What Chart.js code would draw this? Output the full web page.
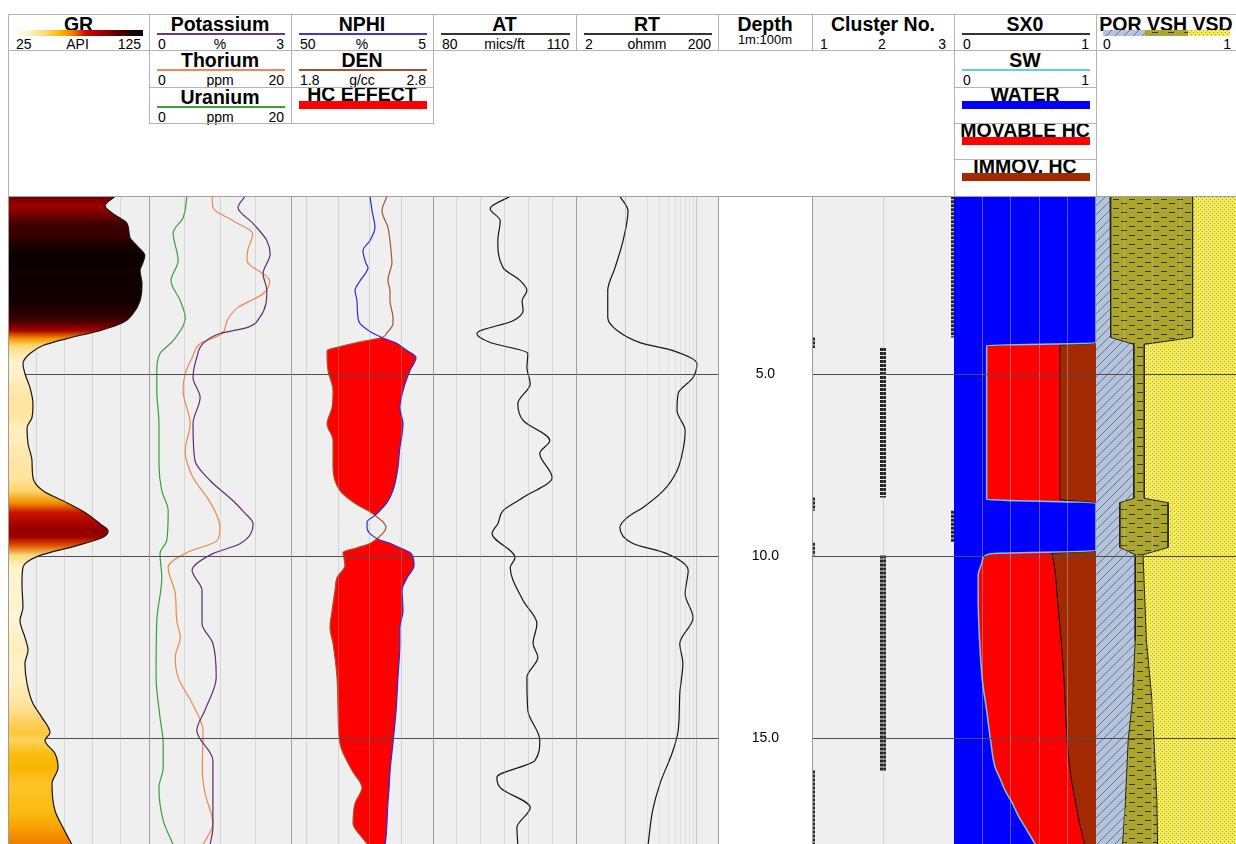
<!DOCTYPE html>
<html>
<head>
<meta charset="utf-8">
<title>Well log</title>
<script src="https://cdn.jsdelivr.net/npm/chart.js@4.4.1/dist/chart.umd.min.js"></script>
<style>
  html, body { margin: 0; padding: 0; background: #fff; }
  body { width: 1236px; height: 844px; position: relative; overflow: hidden;
         font-family: "Liberation Sans", Arial, sans-serif; color: #000; }
  .abs { position: absolute; }
  .track { position: absolute; top: 197px; height: 647px; }
  .track canvas { display: block; }
  .title { position: absolute; font-weight: bold; font-size: 19.5px; line-height: 20px;
           text-align: center; white-space: nowrap; }
  .lbl { position: absolute; font-size: 14px; line-height: 15px; white-space: nowrap; }
</style>
</head>
<body>
<div class="track" style="left:8px;width:141px"><canvas id="grChart" width="141" height="647"></canvas></div>
<div class="track" style="left:149px;width:142px"><canvas id="kChart" width="142" height="647"></canvas></div>
<div class="track" style="left:291px;width:142px"><canvas id="ndChart" width="142" height="647"></canvas></div>
<div class="track" style="left:433px;width:143px"><canvas id="atChart" width="143" height="647"></canvas></div>
<div class="track" style="left:576px;width:142px"><canvas id="rtChart" width="142" height="647"></canvas></div>
<div class="track" style="left:718px;width:94px"><canvas id="depthChart" width="94" height="647"></canvas></div>
<div class="track" style="left:812px;width:142px"><canvas id="clChart" width="142" height="647"></canvas></div>
<div class="track" style="left:954px;width:142px"><canvas id="sxChart" width="142" height="647"></canvas></div>
<div class="track" style="left:1096px;width:140px"><canvas id="volChart" width="140" height="647"></canvas></div>

<script>
// depth range shown (m) and depth labels
var depthMin = 0.12, depthMax = 17.9;
var depthTicks = [5, 10, 15];

// GR (API)
var grDepth = [0.1,0.36,0.58,0.85,1.24,1.46,1.73,1.92,2.14,2.5,2.97,3.32,3.57,3.79,4.01,4.2,4.42,4.7,4.97,5.36,5.8,6.18,6.46,6.9,7.36,7.83,8.19,8.52,8.79,9.1,9.29,9.47,9.7,9.97,10.3,10.74,11.4,11.76,12.22,12.58,12.94,13.49,14.04,14.42,14.84,15.05,15.41,15.8,16.24,16.98,17.45,17.92];
var grValue = [100.9,93.8,99.5,109.4,111.5,116.5,122,120.7,118.6,120,118.6,113.7,106.6,90.2,66.8,49.8,40.6,35.6,37,40.6,42.7,42,38.5,39.2,42,42.7,49.8,66.8,79.6,90.2,96,92.4,73.9,47.7,35.6,34.9,35.6,33.5,37,39.2,37,38.5,42.7,49,54.8,51.2,58.3,60.5,56.2,58.3,64,70.4];

// Potassium (%), Thorium (ppm), Uranium (ppm)
var kDepth = [0.1,0.41,0.85,1.32,1.68,2.23,2.69,3.43,3.71,3.87,4.15,4.53,5.08,5.63,6.35,7.36,7.91,8.46,8.8,9.1,9.65,9.92,10.38,10.93,11.84,12.39,13.32,14.23,14.78,15.6,16.7,17.45,17.92];
var kValue = [2.03,1.88,2.2,2.49,2.56,2.41,2.49,2.34,2.07,1.5,1.14,1.01,0.93,1.08,0.93,0.97,1.29,1.77,2.02,2.2,1.92,1.35,0.91,1.12,1.12,1.35,1.42,1.18,1.01,1.35,1.35,1.35,1.29];
var thDepth = [0.1,0.41,0.77,1.13,1.59,1.87,2.42,2.77,3.16,3.52,3.87,4.15,4.53,4.97,5.44,6.35,7.09,7.83,8.38,8.8,9.2,9.56,9.89,10.3,11.02,11.76,12.22,12.77,13.32,14.04,14.78,15.88,16.51,17.34,17.92];
var thValue = [8.9,9.0,11.8,14.6,13.9,13.8,17.0,16.1,12.5,11.0,10.3,7.2,6.1,5.1,4.8,5.8,5.1,6.2,8.2,9.4,10.0,9.6,5.35,2.7,3.7,3.9,4.4,3.7,4.1,6.1,7.6,7.5,7.9,9.0,7.6];
var uDepth = [0.1,0.69,1.1,1.87,2.42,2.97,3.43,4.07,4.42,4.89,5.44,6.35,7.45,8.19,8.74,9.56,9.92,10.58,11.76,13.32,14.42,15.14,15.8,16.35,17.25,17.92];
var uValue = [5.35,4.8,3.4,4.1,3.1,4.4,5.1,3.4,1.55,1.1,1.1,1.4,1.4,1.8,2.7,2.5,1.55,1.8,1.1,1.0,1.55,2.0,2.0,1.4,2.0,3.4];

// NPHI (%) and DEN (g/cc) on the same depths
var ndDepth = [0.1,0.5,0.96,1.32,1.59,1.95,2.06,2.42,2.69,2.97,3.43,3.6,3.85,3.98,4.12,4.26,4.34,4.53,4.89,5.44,5.91,6.35,6.81,7.0,7.55,8.19,8.52,8.79,8.87,9.05,9.2,9.51,9.64,9.76,9.89,10.03,10.25,10.58,10.93,11.5,11.95,12.39,13.32,14.23,15.14,15.88,16.35,16.79,17.34,17.72,17.92];
var nphiValue = [25.0,24.3,23.4,25.0,27.2,26.2,25.6,28.1,29.7,29.1,28.8,28.1,24.3,21.2,17.0,14.5,13.2,10.4,12.3,14.5,15.5,14.5,15.1,15.5,16.1,17.7,19.6,22.4,23.4,25.9,25.9,22.7,18.6,15.5,12.3,11.3,11.0,13.2,14.8,14.5,15.5,15.5,16.1,16.7,17.7,18.6,18.9,19.3,19.6,19.9,20.2];
var denValue = [2.476,2.441,2.483,2.497,2.504,2.511,2.504,2.483,2.497,2.497,2.518,2.518,2.476,2.441,2.265,2.117,2.054,2.054,2.061,2.096,2.089,2.054,2.096,2.096,2.096,2.145,2.244,2.363,2.392,2.448,2.469,2.406,2.356,2.265,2.166,2.173,2.180,2.124,2.110,2.089,2.075,2.096,2.124,2.131,2.145,2.230,2.300,2.251,2.237,2.300,2.342];

// AT (mics/ft)
var atDepth = [0.1,0.44,0.77,1.32,2.06,2.42,2.69,2.97,3.24,3.52,3.87,4.12,4.42,4.81,5.25,5.8,6.26,6.81,7.17,7.83,8.38,8.74,9.1,9.37,10.03,10.3,11.21,11.84,12.39,12.77,13.32,14.23,15.05,15.6,16.07,16.35,16.9,17.45,17.92];
var atValue = [96.2,92.0,94.1,93.6,94.7,98.3,99.7,98.7,98.9,96.8,89.2,92.0,99.9,99.7,100.4,97.8,98.9,104.5,102.4,105,98.9,94.7,93.6,92.4,97.2,96.2,98.9,101.8,101.0,102.0,99.7,99.9,102.4,101.4,93.4,94.1,100.4,97.6,97.8];

// RT (ohmm)
var rtDepth = [0.1,0.5,1.32,2.06,2.69,3.43,3.79,4.12,4.34,4.7,5.08,5.52,5.99,6.54,7.09,7.64,8.19,8.65,8.93,9.2,9.64,9.92,10.38,11.02,11.68,12.39,12.94,13.76,14.78,15.33,16.24,16.98,17.92];
var rtValue = [8.3,10.8,9.2,7.1,5.6,5.6,7.6,15.9,46.5,101,89,55,53,69,64,53,34,17.6,10.5,8.3,12.7,38,76,69,89,58,64,58,55,46.5,30.5,24,20.7];

// Cluster No. intervals
var clusterTop = [0.1, 3.98, 4.27, 8.38, 8.74, 9.62, 9.97, 15.88];
var clusterBase = [3.98, 4.27, 8.38, 8.74, 9.62, 9.97, 15.88, 17.92];
var clusterNo = [3, 1, 2, 1, 3, 1, 2, 1];

// SW and SX0 (fraction)
var satDepth = [0.1,4.13,4.2,8.43,8.53,9.84,9.92,10.11,10.52,11.02,12.31,13.41,14.23,15.12,15.8,16.06,16.43,16.77,17.1,17.43,17.79,17.92];
var swValue = [1,1,0.23,0.23,1,1,0.255,0.2,0.17,0.17,0.18,0.2,0.23,0.26,0.29,0.32,0.36,0.41,0.45,0.5,0.555,0.575];
var sx0Value = [1,1,0.746,0.746,1,1,0.69,0.70,0.715,0.725,0.755,0.775,0.785,0.797,0.815,0.824,0.84,0.856,0.872,0.89,0.912,0.92];

// POR, VSH (VSD is the rest up to 1)
var volDepth = [0.1,3.98,4.17,8.40,8.52,9.75,9.95,12.31,13.96,15.05,16.70,17.92];
var porValue = [0.10,0.105,0.27,0.27,0.17,0.17,0.28,0.28,0.26,0.23,0.21,0.19];
var vshValue = [0.59,0.585,0.075,0.075,0.345,0.345,0.056,0.08,0.14,0.184,0.225,0.25];

// GR colour map (API -> colour)
var grMapAt = [25, 37, 50, 60, 70, 80, 93, 105, 115, 125];
var grMapColor = ['#ffffff','#fff1c8','#fdd56b','#fbb800','#f08000','#c81000','#a00000','#5a0000','#200000','#000000'];

Chart.defaults.font.family = '"Liberation Sans", Arial, sans-serif';

function pairs(depths, values) {
  return depths.map(function (d, i) { return { x: values[i], y: d }; });
}

function hexRgb(h) {
  return [parseInt(h.substr(1, 2), 16), parseInt(h.substr(3, 2), 16), parseInt(h.substr(5, 2), 16)];
}

function grColor(v) {
  if (v <= grMapAt[0]) return grMapColor[0];
  for (var i = 1; i < grMapAt.length; i++) {
    if (v <= grMapAt[i]) {
      var t = (v - grMapAt[i - 1]) / (grMapAt[i] - grMapAt[i - 1]);
      var a = hexRgb(grMapColor[i - 1]), b = hexRgb(grMapColor[i]);
      return 'rgb(' + Math.round(a[0] + (b[0] - a[0]) * t) + ',' + Math.round(a[1] + (b[1] - a[1]) * t) + ',' + Math.round(a[2] + (b[2] - a[2]) * t) + ')';
    }
  }
  return grMapColor[grMapColor.length - 1];
}

// vertical gradient: the GR fill takes the colour of the GR value at each depth
function grFill(context) {
  var chart = context.chart, area = chart.chartArea, ys = chart.scales.y;
  if (!area || !ys) return '#f5c040';
  var g = chart.ctx.createLinearGradient(0, area.top, 0, area.bottom);
  for (var i = 0; i < grDepth.length; i++) {
    var off = (ys.getPixelForValue(grDepth[i]) - area.top) / (area.bottom - area.top);
    if (!isFinite(off)) return '#f5c040';
    g.addColorStop(Math.min(1, Math.max(0, off)), grColor(grValue[i]));
  }
  return g;
}

// lithology patterns
var patCtx = document.createElement('canvas').getContext('2d');
function makePattern(w, h, draw) {
  var c = document.createElement('canvas');
  c.width = w; c.height = h;
  draw(c.getContext('2d'), w, h);
  return patCtx.createPattern(c, 'repeat');
}
var porPattern = makePattern(9, 9, function (c, w, h) {
  c.fillStyle = '#b5c4dd'; c.fillRect(0, 0, w, h);
  c.strokeStyle = '#59606e'; c.lineWidth = 0.8;
  c.beginPath();
  c.moveTo(0, h); c.lineTo(w, 0);
  c.moveTo(-2, 2); c.lineTo(2, -2);
  c.moveTo(w - 2, h + 2); c.lineTo(w + 2, h - 2);
  c.stroke();
});
var vshPattern = makePattern(16, 9, function (c, w, h) {
  c.fillStyle = '#aca62c'; c.fillRect(0, 0, w, h);
  c.fillStyle = '#3a3814';
  c.fillRect(1, 2, 6, 1);
  c.fillRect(9, 6, 6, 1);
});
var vsdPattern = makePattern(4, 4, function (c, w, h) {
  c.fillStyle = '#f5ed58'; c.fillRect(0, 0, w, h);
  c.fillStyle = '#a59d3e';
  c.fillRect(0, 0, 1, 1);
  c.fillRect(2, 2, 1, 1);
});

// track background
var trackBg = {
  id: 'trackBg',
  beforeDraw: function (chart, args, opts) {
    var a = chart.chartArea, ctx = chart.ctx;
    ctx.save();
    ctx.fillStyle = opts.color || '#efefef';
    ctx.fillRect(a.left, a.top, a.right - a.left, a.bottom - a.top);
    ctx.restore();
  }
};

function depthScale(showLines, z) {
  return {
    type: 'linear', reverse: true, min: depthMin, max: depthMax,
    afterBuildTicks: function (s) { s.ticks = depthTicks.map(function (v) { return { value: v }; }); },
    ticks: { display: false },
    grid: { display: showLines, color: '#4d4d4d', lineWidth: 1, drawTicks: false, z: z },
    border: { display: false }
  };
}

function valueScale(min, max, gridAt, more) {
  var s = {
    type: 'linear', axis: 'x', position: 'top', min: min, max: max,
    afterBuildTicks: function (sc) { sc.ticks = gridAt.map(function (v) { return { value: v }; }); },
    ticks: { display: false },
    grid: { color: 'rgba(165,165,165,0.35)', lineWidth: 1, drawTicks: false, z: 1 },
    border: { display: false }
  };
  for (var k in more) s[k] = more[k];
  return s;
}

function hiddenScale(min, max, more) {
  var s = { type: 'linear', axis: 'x', display: false, min: min, max: max };
  for (var k in more) s[k] = more[k];
  return s;
}

function trackChart(id, datasets, xScales, bg, yScale) {
  var scales = { y: yScale };
  for (var k in xScales) scales[k] = xScales[k];
  return new Chart(document.getElementById(id), {
    type: 'line',
    data: { datasets: datasets },
    options: {
      indexAxis: 'y',
      responsive: false,
      animation: false,
      events: [],
      layout: { padding: 0, autoPadding: false },
      elements: { point: { radius: 0 }, line: { borderWidth: 1.2, cubicInterpolationMode: 'monotone' } },
      plugins: { legend: { display: false }, tooltip: { enabled: false }, trackBg: { color: bg } },
      scales: scales
    },
    plugins: [trackBg]
  });
}

// GR
trackChart('grChart', [{
  label: 'GR', data: pairs(grDepth, grValue), xAxisID: 'x',
  borderColor: '#151515', borderWidth: 1.2, backgroundColor: grFill, fill: { value: 25 }
}], {
  x: valueScale(25, 125, [45, 65, 85, 105], { grid: { color: 'rgba(165,165,165,0.35)', drawTicks: false, z: -1 } })
}, '#efefef', depthScale(true, -1));

// Potassium / Thorium / Uranium
trackChart('kChart', [
  { label: 'Potassium', data: pairs(kDepth, kValue), xAxisID: 'x', borderColor: '#5e2d72', fill: false },
  { label: 'Thorium', data: pairs(thDepth, thValue), xAxisID: 'ppm', borderColor: '#f0874a', fill: false },
  { label: 'Uranium', data: pairs(uDepth, uValue), xAxisID: 'ppm', borderColor: '#3a9e3a', fill: false }
], {
  x: valueScale(0, 3, [0.75, 1.5, 2.25]),
  ppm: hiddenScale(0, 20)
}, '#efefef', depthScale(true, 1));

// NPHI / DEN with HC effect where DEN sits left of NPHI
var hcData = ndDepth.map(function (d, i) {
  var denPos = (denValue[i] - 1.8) / 1.0;
  var nphiPos = (50 - nphiValue[i]) / 45;
  return { x: denPos <= nphiPos + 0.01 ? denValue[i] : null, y: d };
});
trackChart('ndChart', [
  { label: 'NPHI', data: pairs(ndDepth, nphiValue), xAxisID: 'x', borderColor: '#2a2ae0', fill: false, order: 0 },
  { label: 'DEN', data: pairs(ndDepth, denValue), xAxisID: 'den', borderColor: '#a5532c', fill: false, order: 0 },
  { label: 'HC EFFECT', data: hcData, xAxisID: 'den', borderWidth: 0, borderColor: 'rgba(0,0,0,0)',
    backgroundColor: '#ff0000', fill: '-2', order: 1 }
], {
  x: valueScale(5, 50, [15, 25, 35, 45], { reverse: true }),
  den: hiddenScale(1.8, 2.8)
}, '#efefef', depthScale(true, 1));

// AT
trackChart('atChart', [
  { label: 'AT', data: pairs(atDepth, atValue), xAxisID: 'x', borderColor: '#151515', fill: false }
], {
  x: valueScale(80, 110, [85, 90, 95, 100, 105])
}, '#efefef', depthScale(true, 1));

// RT (log)
var rtScale = valueScale(2, 200, [10, 20, 30, 40, 50, 60, 70, 80, 90, 100], { type: 'logarithmic' });
rtScale.grid.color = function (c) {
  var v = c.tick ? c.tick.value : 0;
  return (v === 10 || v === 100) ? 'rgba(150,150,150,0.45)' : 'rgba(170,170,170,0.22)';
};
trackChart('rtChart', [
  { label: 'RT', data: pairs(rtDepth, rtValue), xAxisID: 'x', borderColor: '#151515', fill: false }
], { x: rtScale }, '#efefef', depthScale(true, 1));

// Depth labels
new Chart(document.getElementById('depthChart'), {
  type: 'line',
  data: { datasets: [] },
  options: {
    indexAxis: 'y', responsive: false, animation: false, events: [],
    layout: { padding: 0, autoPadding: false },
    plugins: { legend: { display: false }, tooltip: { enabled: false } },
    scales: {
      x: { type: 'linear', display: false, min: 0, max: 1 },
      y: {
        type: 'linear', reverse: true, min: depthMin, max: depthMax, position: 'left',
        afterBuildTicks: function (s) { s.ticks = depthTicks.map(function (v) { return { value: v }; }); },
        afterFit: function (s) { s.width = 93; s.paddingTop = 0; s.paddingBottom = 0; },
        ticks: { crossAlign: 'center', padding: 32, color: '#000', font: { size: 14 },
                 callback: function (v) { return Number(v).toFixed(1); } },
        grid: { display: false, drawTicks: false },
        border: { display: false }
      }
    }
  }
});

// Cluster No.
var clusterData = [];
for (var c = 0; c < clusterNo.length; c++) {
  clusterData.push({ x: clusterNo[c], y: clusterTop[c] });
  clusterData.push({ x: clusterNo[c], y: clusterBase[c] });
  clusterData.push({ x: null, y: clusterBase[c] });
}
trackChart('clChart', [
  { label: 'Cluster No.', data: clusterData, xAxisID: 'x', borderColor: '#262626', borderWidth: 6,
    borderDash: [3, 1], borderCapStyle: 'butt', cubicInterpolationMode: 'default', tension: 0, fill: false }
], {
  x: valueScale(1, 3, [2])
}, '#efefef', depthScale(true, 1));

// SX0 / SW
trackChart('sxChart', [
  { label: 'SW', data: pairs(satDepth, swValue), xAxisID: 'x', borderColor: '#74c6e6', borderWidth: 1.5, fill: false, order: 0 },
  { label: 'SX0', data: pairs(satDepth, sx0Value), xAxisID: 'x', borderColor: '#111', borderWidth: 1, fill: false, order: 0 },
  { label: 'IMMOV. HC', data: pairs(satDepth, sx0Value), xAxisID: 'x', borderWidth: 0, borderColor: 'rgba(0,0,0,0)',
    backgroundColor: '#a32a00', fill: { value: 1 }, order: 1 },
  { label: 'MOVABLE HC', data: pairs(satDepth, sx0Value), xAxisID: 'x', borderWidth: 0, borderColor: 'rgba(0,0,0,0)',
    backgroundColor: '#ff0000', fill: '+1', order: 2 },
  { label: 'WATER', data: pairs(satDepth, swValue), xAxisID: 'x', borderWidth: 0, borderColor: 'rgba(0,0,0,0)',
    backgroundColor: '#0000ff', fill: { value: 0 }, order: 3 }
], {
  x: valueScale(0, 1, [0.2, 0.4, 0.6, 0.8], { grid: { color: 'rgba(190,190,200,0.45)', drawTicks: false, z: 1 } })
}, '#0000ff', depthScale(true, 1));

// POR / VSH / VSD
var shaleTop = volDepth.map(function (d, i) { return { x: porValue[i] + vshValue[i], y: d }; });
trackChart('volChart', [
  { label: 'POR', data: pairs(volDepth, porValue), xAxisID: 'x', borderColor: '#222', borderWidth: 1, tension: 0, cubicInterpolationMode: 'default', fill: false, order: 0 },
  { label: 'VSH', data: shaleTop, xAxisID: 'x', borderColor: '#222', borderWidth: 1, tension: 0, cubicInterpolationMode: 'default', fill: false, order: 0 },
  { label: 'VSD', data: shaleTop, xAxisID: 'x', borderWidth: 0, borderColor: 'rgba(0,0,0,0)', tension: 0, cubicInterpolationMode: 'default',
    backgroundColor: vsdPattern, fill: { value: 1 }, order: 1 },
  { label: 'VSH fill', data: shaleTop, xAxisID: 'x', borderWidth: 0, borderColor: 'rgba(0,0,0,0)', tension: 0, cubicInterpolationMode: 'default',
    backgroundColor: vshPattern, fill: '+1', order: 2 },
  { label: 'POR fill', data: pairs(volDepth, porValue), xAxisID: 'x', borderWidth: 0, borderColor: 'rgba(0,0,0,0)', tension: 0, cubicInterpolationMode: 'default',
    backgroundColor: porPattern, fill: { value: 0 }, order: 3 }
], {
  x: valueScale(0, 1, [0.2, 0.4, 0.6, 0.8], { grid: { color: 'rgba(200,200,200,0.35)', drawTicks: false, z: 1 } })
}, '#f5ed58', depthScale(true, 1));

// ---- header ----
function el(cls, css, text) {
  var d = document.createElement('div');
  d.className = cls;
  d.style.cssText = css;
  if (text !== undefined) d.textContent = text;
  document.body.appendChild(d);
  return d;
}
function hline(x1, x2, y, col) { el('abs', 'left:' + x1 + 'px;top:' + y + 'px;width:' + (x2 - x1 + 1) + 'px;height:1px;background:' + (col || '#b3b3b3')); }
function vline(x, y1, y2, col) { el('abs', 'left:' + x + 'px;top:' + y1 + 'px;width:1px;height:' + (y2 - y1) + 'px;background:' + (col || '#b3b3b3')); }
function title(x0, y0, w, text) { el('title', 'left:' + x0 + 'px;top:' + y0 + 'px;width:' + w + 'px', text); }
function scaleRow(x0, y0, w, lo, unit, hi) {
  el('lbl', 'left:' + (x0 + 9) + 'px;top:' + (y0 + 23) + 'px', lo);
  el('lbl', 'left:' + x0 + 'px;top:' + (y0 + 23) + 'px;width:' + w + 'px;text-align:center', unit);
  el('lbl', 'left:' + x0 + 'px;top:' + (y0 + 23) + 'px;width:' + (w - 7) + 'px;text-align:right', hi);
}
function curveCell(x0, y0, w, name, color, lo, unit, hi) {
  title(x0, y0, w, name);
  el('abs', 'left:' + (x0 + 8) + 'px;top:' + (y0 + 19) + 'px;width:' + (w - 14) + 'px;height:1.5px;background:' + color);
  scaleRow(x0, y0, w, lo, unit, hi);
}
function barCell(x0, y0, w, name, color) {
  el('abs', 'left:' + (x0 + 8) + 'px;top:' + (y0 + 14) + 'px;width:' + (w - 14) + 'px;height:8px;background:' + color);
  title(x0, y0 - 3, w, name);
}

// GR legend bar uses the same colour map
var grStops = grMapAt.map(function (v, i) { return grMapColor[i] + ' ' + ((v - 25)).toFixed(0) + '%'; });
title(8, 14, 141, 'GR');
el('abs', 'left:15px;top:30px;width:128px;height:6px;background:linear-gradient(to right,' + grStops.join(',') + ')');
scaleRow(7, 14, 141, '25', 'API', '125');

curveCell(149, 14, 142, 'Potassium', '#6b3a78', '0', '%', '3');
curveCell(149, 50, 142, 'Thorium', '#f0894a', '0', 'ppm', '20');
curveCell(149, 87, 142, 'Uranium', '#3a9e3a', '0', 'ppm', '20');
curveCell(291, 14, 142, 'NPHI', '#3a3ad8', '50', '%', '5');
curveCell(291, 50, 142, 'DEN', '#a0522d', '1.8', 'g/cc', '2.8');
barCell(291, 87, 142, 'HC EFFECT', '#ff0000');
curveCell(433, 14, 143, 'AT', '#333', '80', 'mics/ft', '110');
curveCell(576, 14, 142, 'RT', '#333', '2', 'ohmm', '200');

title(718, 14, 94, 'Depth');
el('lbl', 'left:718px;top:32px;width:94px;text-align:center;font-size:13px', '1m:100m');

title(812, 14, 142, 'Cluster No.');
scaleRow(811, 14, 142, '1', '2', '3');
el('abs', 'left:880px;top:31px;width:4px;height:4px;background:#222;transform:rotate(45deg)');

curveCell(954, 14, 142, 'SX0', '#333', '0', '', '1');
curveCell(954, 50, 142, 'SW', '#66cfd6', '0', '', '1');
barCell(954, 87, 142, 'WATER', '#0000ff');
barCell(954, 123, 142, 'MOVABLE HC', '#ff0000');
barCell(954, 159, 142, 'IMMOV. HC', '#a32a00');

title(1096, 14, 140, 'POR VSH VSD');
var lithoKey = document.createElement('canvas');
lithoKey.width = 127; lithoKey.height = 6;
lithoKey.style.cssText = 'position:absolute;left:1103px;top:30px';
var lk = lithoKey.getContext('2d');
lk.fillStyle = porPattern; lk.fillRect(0, 0, 42, 6);
lk.fillStyle = vshPattern; lk.fillRect(42, 0, 43, 6);
lk.fillStyle = vsdPattern; lk.fillRect(85, 0, 42, 6);
document.body.appendChild(lithoKey);
el('lbl', 'left:1103px;top:37px', '0');
el('lbl', 'left:1096px;top:37px;width:135px;text-align:right', '1');

// header frame
hline(8, 1236, 14);
hline(8, 1236, 50);
hline(149, 433, 87);
hline(149, 433, 123);
hline(954, 1096, 87);
hline(954, 1096, 123);
hline(954, 1096, 159);
hline(8, 1236, 196, '#a0a0a0');
vline(8, 14, 196);
vline(149, 14, 124);
vline(291, 14, 124);
vline(433, 14, 124);
vline(576, 14, 51);
vline(718, 14, 51);
vline(812, 14, 51);
vline(954, 14, 196);
vline(1096, 14, 196);

// track dividers
[8, 149, 291, 433, 576, 718, 812].forEach(function (x) { vline(x, 196, 844, '#9d9d9d'); });
</script>
</body>
</html>
